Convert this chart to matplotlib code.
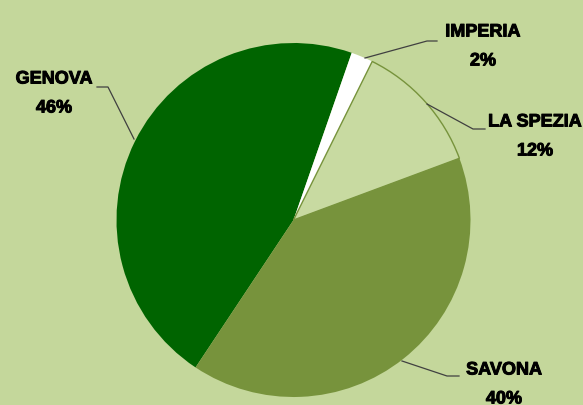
import matplotlib
matplotlib.use("Agg")
import matplotlib.pyplot as plt
import matplotlib.patheffects as pe

# Data
provinces = ["GENOVA", "IMPERIA", "LA SPEZIA", "SAVONA"]
shares = [46, 2, 12, 40]
colors = ["#006400", "#FFFFFF", "#C8DAA1", "#77933C"]
bg = "#C4D79B"

W, H = 583, 406
fig = plt.figure(figsize=(W / 100, H / 100), dpi=100, facecolor=bg)
ax = fig.add_axes([0, 0, 1, 1])
ax.set_facecolor(bg)

cx, cy, r = 293.5, H - 221, 177
wedges, _ = ax.pie(shares, colors=colors, startangle=90 - 213.6, counterclock=False,
                   center=(cx, cy), radius=r, frame=True,
                   wedgeprops=dict(linewidth=0))
wedges[2].set_edgecolor("#77933C")
wedges[2].set_linewidth(1.0)
ax.set_xlim(0, W)
ax.set_ylim(0, H)
ax.set_aspect("equal")
ax.axis("off")

font = dict(family=["Liberation Sans", "DejaVu Sans"], weight="bold", fontsize=13, color="black",
            path_effects=[pe.withStroke(linewidth=0.7, foreground="black")])

# label positions (pixel coords, y from top) and leader lines
labels = {
    "GENOVA": ((54, 80), [(134, 140), (108, 88), (97, 88)]),
    "IMPERIA": ((483, 33), [(365, 59), (427, 42), (437, 42)]),
    "LA SPEZIA": ((535, 123), [(427, 105), (473, 130), (485, 130)]),
    "SAVONA": ((504, 371), [(402, 362), (447, 377), (459, 377)]),
}
for name, pct in zip(provinces, shares):
    (tx, ty), pts = labels[name]
    ax.text(tx, H - ty, name, ha="center", va="center", **font)
    ax.text(tx, H - ty - 29, f"{pct}%", ha="center", va="center", **font)
    xs = [p[0] for p in pts]
    ys = [H - p[1] for p in pts]
    ax.plot(xs, ys, color="#404040", linewidth=0.9)

fig.savefig("out.png", dpi=100, facecolor=bg)
